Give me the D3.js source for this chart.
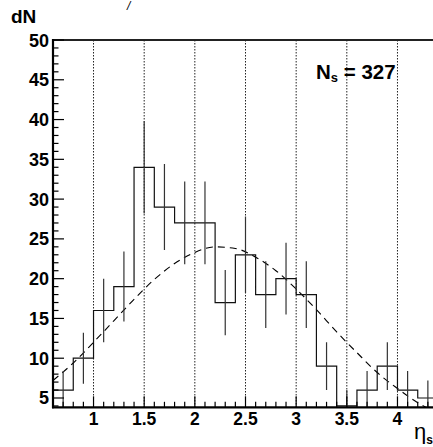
<!DOCTYPE html>
<html>
<head>
<meta charset="utf-8">
<script src="https://cdn.jsdelivr.net/npm/d3@7"></script>
<style>
  html, body { margin: 0; padding: 0; background: #fff; }
  svg { display: block; }
  text { font-family: "Liberation Sans", Arial, Helvetica, sans-serif; }
</style>
</head>
<body>
<svg id="chart" width="433" height="447"></svg>
<script>
// ---- data ----
const binEdgesLow = [0.6, 0.8, 1.0, 1.2, 1.4, 1.6, 1.8, 2.0, 2.2, 2.4, 2.6, 2.8, 3.0, 3.2, 3.4, 3.6, 3.8, 4.0, 4.2];
const binWidth = 0.2;
const counts = [6, 10, 16, 19, 34, 29, 27, 27, 17, 23, 18, 20, 18, 9, 4, 6, 9, 6, 5];
const errors = [2.4, 3.2, 4.0, 4.4, 5.8, 5.4, 5.2, 5.2, 4.1, 4.8, 4.2, 4.5, 4.2, 3.0, 2.0, 2.4, 3.0, 2.4, 2.2];
const fitX = [0.6, 0.8, 1.0, 1.2, 1.4, 1.6, 1.8, 2.0, 2.2, 2.4, 2.6, 2.8, 3.0, 3.2, 3.4, 3.6, 3.8, 4.0, 4.2, 4.4];
const fitY = [7.2, 9.4, 12.0, 14.7, 17.4, 19.9, 21.9, 23.3, 24.0, 23.8, 22.7, 21.0, 18.7, 16.1, 13.3, 10.7, 8.2, 6.2, 4.4, 3.1];
const xTickLabels = [1, 1.5, 2, 2.5, 3, 3.5, 4];
const yTickLabels = [5, 10, 15, 20, 25, 30, 35, 40, 45, 50];
const legendValue = 327;

// ---- layout ----
const svg = d3.select("#chart");
const x = d3.scaleLinear().domain([0.6, 4.4]).range([53, 438]);
const y = d3.scaleLinear().domain([3.83, 50]).range([407.3, 40]);
const [x0, x1] = x.range();
const [yb, yt] = y.range();

svg.append("defs").append("clipPath").attr("id", "plotclip")
  .append("rect").attr("x", x0).attr("y", yt).attr("width", x1 - x0).attr("height", yb - yt);

// grid (vertical dotted)
svg.append("g").selectAll("line").data(xTickLabels).join("line")
  .attr("x1", d => x(d)).attr("x2", d => x(d))
  .attr("y1", yt).attr("y2", yb)
  .attr("stroke", "#222").attr("stroke-width", 1)
  .attr("stroke-dasharray", "1.5,1.5");

const plot = svg.append("g").attr("clip-path", "url(#plotclip)");

// fit curve (dashed)
const fitPts = fitX.map((v, i) => [v, fitY[i]]);
plot.append("path")
  .attr("d", d3.line().x(d => x(d[0])).y(d => y(d[1])).curve(d3.curveMonotoneX)(fitPts))
  .attr("fill", "none").attr("stroke", "#000").attr("stroke-width", 1.1)
  .attr("stroke-dasharray", "7,5");

// histogram step outline
const stepPts = [];
stepPts.push([binEdgesLow[0], y.domain()[0]]);
counts.forEach((c, i) => {
  stepPts.push([binEdgesLow[i], c]);
  stepPts.push([binEdgesLow[i] + binWidth, c]);
});
stepPts.push([binEdgesLow[binEdgesLow.length - 1] + binWidth, y.domain()[0]]);
plot.append("path")
  .attr("d", d3.line().x(d => x(d[0])).y(d => y(d[1])).curve(d3.curveLinear)(stepPts))
  .attr("fill", "none").attr("stroke", "#111").attr("stroke-width", 1.2);

// error bars
plot.append("g").selectAll("line").data(counts).join("line")
  .attr("x1", (d, i) => x(binEdgesLow[i] + binWidth / 2))
  .attr("x2", (d, i) => x(binEdgesLow[i] + binWidth / 2))
  .attr("y1", (d, i) => y(d - errors[i]))
  .attr("y2", (d, i) => y(d + errors[i]))
  .attr("stroke", "#333").attr("stroke-width", 1.2);

// frame: top line
svg.append("line").attr("x1", x0).attr("x2", x1).attr("y1", yt).attr("y2", yt)
  .attr("stroke", "#222").attr("stroke-width", 2);

// y axis
const yMinor = d3.range(4, 51, 1);
svg.append("g").selectAll("line").data(yMinor).join("line")
  .attr("x1", x0).attr("x2", d => x0 + (d % 5 === 0 ? 11 : 5.5))
  .attr("y1", d => y(d)).attr("y2", d => y(d))
  .attr("stroke", "#000").attr("stroke-width", 1.2);
svg.append("line").attr("x1", x0).attr("x2", x0).attr("y1", yt - 1).attr("y2", yb + 1)
  .attr("stroke", "#000").attr("stroke-width", 2.2);
svg.append("g").selectAll("text").data(yTickLabels).join("text")
  .attr("x", 49).attr("y", d => y(d) + 6.5)
  .attr("text-anchor", "end").attr("font-size", 18).attr("font-weight", "bold")
  .text(d => d);

// x axis
const xMinor = d3.range(6, 45, 1).map(v => v / 10);
svg.append("g").selectAll("line").data(xMinor).join("line")
  .attr("x1", d => x(d)).attr("x2", d => x(d))
  .attr("y1", yb).attr("y2", d => yb - (Math.abs(d * 2 - Math.round(d * 2)) < 1e-6 ? 11 : 5.5))
  .attr("stroke", "#000").attr("stroke-width", 1.2);
svg.append("line").attr("x1", x0 - 1).attr("x2", x1).attr("y1", yb).attr("y2", yb)
  .attr("stroke", "#000").attr("stroke-width", 2.2);
svg.append("g").selectAll("text").data(xTickLabels).join("text")
  .attr("x", d => x(d)).attr("y", 425)
  .attr("text-anchor", "middle").attr("font-size", 17.5).attr("font-weight", "bold")
  .text(d => d);

// axis titles
svg.append("text").attr("x", 11).attr("y", 23)
  .attr("font-size", 19).attr("font-weight", "bold").text("dN");
svg.append("text").attr("x", 127).attr("y", 10)
  .attr("font-size", 12).attr("font-style", "italic").text("/");
const xt = svg.append("text").attr("x", 414).attr("y", 439)
  .attr("font-size", 22);
xt.append("tspan").text("η");
xt.append("tspan").attr("font-size", 12).attr("font-weight", "bold").attr("dy", 5).text("s");

// legend
const lg = svg.append("text").attr("x", 316).attr("y", 78.5)
  .attr("font-size", 20.5).attr("font-weight", "bold");
lg.append("tspan").text("N");
lg.append("tspan").attr("font-size", 13).attr("dy", 3).text("s");
lg.append("tspan").attr("dy", -3).text(" = " + legendValue);
</script>
</body>
</html>
